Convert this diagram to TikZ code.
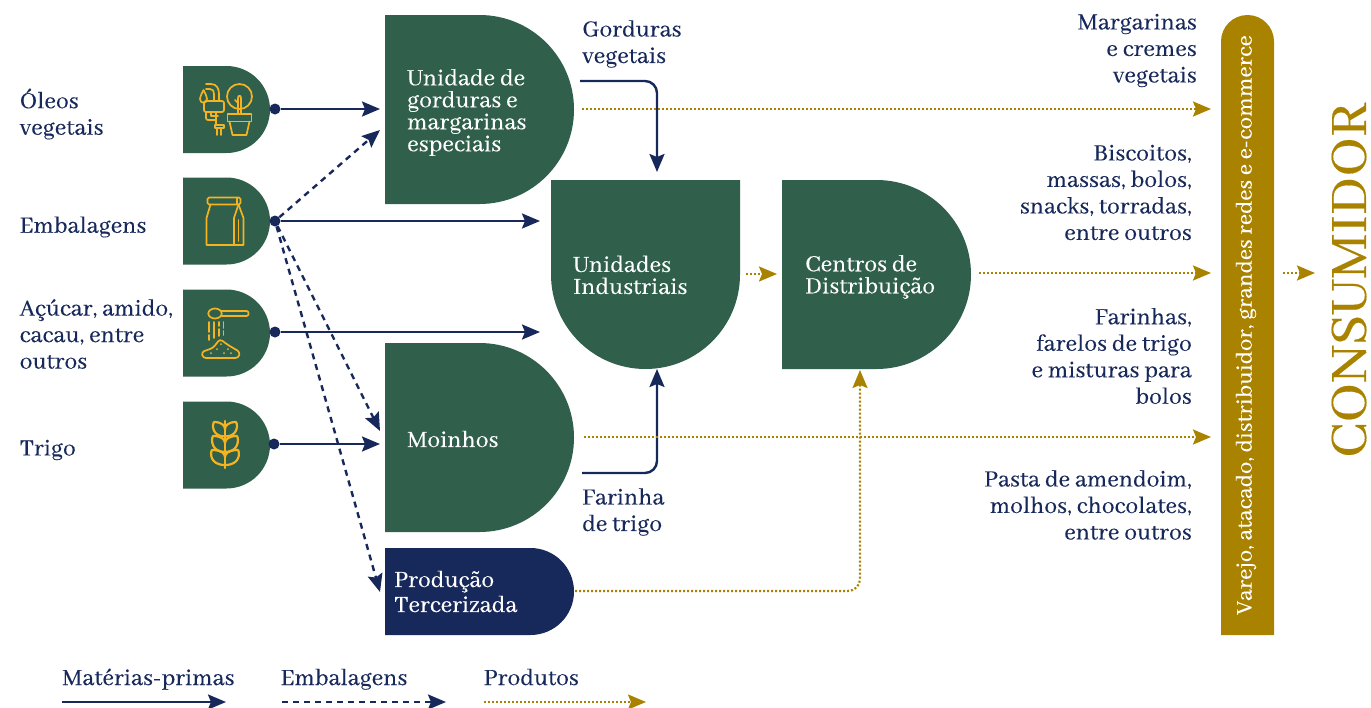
\documentclass[tikz,border=0pt]{standalone}
\usepackage{fontspec}
\setmainfont[FakeBold=0.25]{Abhaya Libre}
\usetikzlibrary{arrows.meta,shapes.misc}
\definecolor{verde}{RGB}{48,96,76}
\definecolor{azul}{RGB}{23,40,90}
\definecolor{ouro}{RGB}{169,130,0}
\definecolor{icone}{RGB}{245,179,32}
\tikzset{
    dbox/.style={rounded rectangle, rounded rectangle left arc=none, fill=verde,
        inner sep=0pt, outer sep=0pt},
    grande/.style={dbox, minimum width=189pt, minimum height=189pt},
    pequeno/.style={dbox, minimum width=87pt, minimum height=87pt},
    ponto/.style={circle, fill=azul, inner sep=0pt, minimum size=11pt},
    rotulo/.style={text=azul, font=\fontsize{25.5}{26.5}\selectfont},
    esq/.style={rotulo, anchor=west, align=left, inner sep=0pt},
    dir/.style={rotulo, anchor=east, align=right, inner sep=0pt},
    dentro/.style={anchor=west, align=left, inner sep=0pt, text=white,
        font=\fontsize{25.5}{22}\selectfont},
    legenda/.style={rotulo, anchor=base west, inner sep=0pt},
    materia/.style={draw=azul, line width=2.4pt, rounded corners=12pt,
        -{Stealth[length=18pt,width=15pt,inset=3pt]}},
    embal/.style={materia, dash pattern=on 6pt off 5pt},
    produto/.style={draw=ouro, line width=2.2pt, rounded corners=12pt, dash pattern=on 2pt off 2pt,
        -{Stealth[length=18pt,width=15pt,inset=3pt,sep=0pt]}},
    traco/.style={draw=icone, line width=1.7pt, line join=round, line cap=round},
}
\begin{document}
\begin{tikzpicture}[x=1pt, y=-1pt]
    \useasboundingbox (0,0) rectangle (1371,707);

    % caixas
    \node[pequeno] (oleos) at (226.5,109.5) {};
    \node[pequeno] (embal) at (226.5,221) {};
    \node[pequeno] (acucar) at (226.5,333) {};
    \node[pequeno] (trigo) at (226.5,445) {};
    \node[grande] (gordura) at (479.5,109.5) {};
    \node[grande] (moinho) at (479.5,437.5) {};
    \node[grande, rotate=-90] (unidade) at (645.5,274.5) {};
    \node[grande] (centro) at (876.5,274.5) {};
    \node[dbox, fill=azul, minimum width=189pt, minimum height=87pt] (terceira) at (479.5,591.5) {};
    \node[dbox, fill=ouro, rotate=90, minimum width=620pt, minimum height=53pt] (varejo) at (1247.5,325) {};

    % textos das caixas
    \node[dentro] (tgordura) at (407,112.5) {Unidade de\\gorduras e\\margarinas\\especiais};
    \node[dentro] (tunidade) at (573,275) {Unidades\\Industriais};
    \node[dentro] (tcentro) at (805,277) {Centros de\\Distribuição};
    \node[dentro] (tmoinho) at (407,439) {Moinhos};
    \node[dentro, font=\fontsize{25.5}{25}\selectfont] (tterceira) at (394,591.5) {Produção\\Tercerizada};
    \node[text=white, rotate=90, inner sep=0pt, font=\fontsize{24.7}{26}\selectfont] (tvarejo) at (1246,325)
        {Varejo, atacado, distribuidor, grandes redes e e-commerce};
    \node[text=ouro, rotate=90, inner sep=0pt, font=\fontsize{57.8}{58}\selectfont] (consumidor) at (1349,280) {CONSUMIDOR};

    % rotulos
    \node[esq] (loleos) at (19.5,114) {Óleos\\vegetais};
    \node[esq] (lembal) at (19.5,227) {Embalagens};
    \node[esq] (lacucar) at (19.5,334) {Açúcar, amido,\\cacau, entre\\outros};
    \node[esq] (ltrigo) at (19.5,450) {Trigo};
    \node[esq] (lgordura) at (582,44) {Gorduras\\vegetais};
    \node[esq] (lfarinha) at (582,512) {Farinha\\de trigo};
    \node[dir] (r1) at (1197,50.5) {Margarinas\\e cremes\\vegetais};
    \node[dir] (r2) at (1192,192.5) {Biscoitos,\\massas, bolos,\\snacks, torradas,\\entre outros};
    \node[dir] (r3) at (1192,356) {Farinhas,\\farelos de trigo\\e misturas para\\bolos};
    \node[dir] (r4) at (1192,505) {Pasta de amendoim,\\molhos, chocolates,\\entre outros};

    % pontos
    \node[ponto] (p1) at (275,109) {};
    \node[ponto] (p2) at (275,221) {};
    \node[ponto] (p3) at (275,332) {};
    \node[ponto] (p4) at (274,444) {};

    % pontas livres
    \coordinate (a1) at (380,109);
    \coordinate (a2) at (540,221);
    \coordinate (a3) at (540,332);
    \coordinate (a4) at (380,444);
    \coordinate (d1) at (380,130);
    \coordinate (d2) at (380,431);
    \coordinate (d3) at (380,592);
    \coordinate (g0) at (580,81);
    \coordinate (g1) at (657,172);
    \coordinate (f0) at (582,473);
    \coordinate (f1) at (657,369);
    \coordinate (o1) at (582,109);
    \coordinate (o2) at (1211,109);
    \coordinate (o3) at (979,273);
    \coordinate (o4) at (1211,273);
    \coordinate (o5) at (584,437);
    \coordinate (o6) at (1211,437);
    \coordinate (o7) at (746,274);
    \coordinate (o8) at (777,274);
    \coordinate (o9) at (1283,273);
    \coordinate (o10) at (1315,273);
    \coordinate (o11) at (575,591);
    \coordinate (o12) at (860,370);

    \draw[materia] (p1) -- (a1);
    \draw[materia] (p2) -- (a2);
    \draw[materia] (p3) -- (a3);
    \draw[materia] (p4) -- (a4);
    \draw[embal] (p2) -- (d1);
    \draw[embal] (p2) -- (d2);
    \draw[embal] (p2) -- (d3);
    \draw[materia] (g0) -| (g1);
    \draw[materia] (f0) -| (f1);
    \draw[produto] (o1) -- (o2);
    \draw[produto] (o3) -- (o4);
    \draw[produto] (o5) -- (o6);
    \draw[produto] (o7) -- (o8);
    \draw[produto] (o9) -- (o10);
    \draw[produto] (o11) -| (o12);

    % legenda
    \node[legenda] (leg1) at (62,685) {Matérias-primas};
    \node[legenda] (leg2) at (280.5,685) {Embalagens};
    \node[legenda] (leg3) at (483.5,685) {Produtos};
    \coordinate (l1) at (62,702);
    \coordinate (l2) at (226,702);
    \coordinate (l3) at (282,702);
    \coordinate (l4) at (446,702);
    \coordinate (l5) at (484,702);
    \coordinate (l6) at (646,702);
    \draw[materia] (l1) -- (l2);
    \draw[embal] (l3) -- (l4);
    \draw[produto] (l5) -- (l6);

    % icone oleo e planta
    \draw[traco] (203.5,90) .. controls (201,95) and (200,97) .. (200,99)
        .. controls (200,104) and (207,104) .. (207,99) .. controls (207,97) and (206,95) .. (203.5,90);
    \draw[traco] (206,84) -- (211,84) .. controls (217,84) and (219,89) .. (219,94) -- (219,101);
    \draw[traco] (206,89) -- (210,89) .. controls (213,89) and (214,91) .. (214,94) -- (214,101);
    \draw[traco, rounded corners=2pt] (204,101) rectangle (224,112);
    \draw[traco, rounded corners=2pt] (206,112) -- (206,120) -- (215,120);
    \draw[traco] (211,112) -- (211,116) -- (218,116);
    \draw[traco] (216,112) -- (216,125);
    \draw[traco] (215,125) rectangle (224,128);
    \draw[traco] (217,128) -- (217,135);
    \draw[traco] (221,128) -- (221,135);
    \draw[traco] (239.5,96.5) circle (12.5);
    \draw[traco] (227.5,114) rectangle (251.5,121.5);
    \draw[traco] (229.5,121.5) -- (232.5,135) -- (246.5,135) -- (249.5,121.5);
    \draw[traco] (238,114) -- (238,103) -- (235,100);
    \draw[traco] (241,114) -- (241,98) .. controls (241,95) and (238,95) .. (238,98) -- (238,103);

    % icone embalagem
    \draw[traco, rounded corners=1.5pt] (207.5,197.5) rectangle (240.5,204.5);
    \draw[traco] (210.5,204.5) -- (206.5,218) -- (206.5,245) -- (243.5,245) -- (243.5,218) -- (238.5,204.5);
    \draw[traco] (234,245) -- (234,218) -- (238.5,204.5);
    \draw[traco] (237,204.5) -- (237,198);
    \draw[traco] (238.5,220) -- (238.5,241);

    % icone acucar
    \draw[traco] (215,313.5) ellipse (6.7 and 5);
    \draw[traco, rounded corners=2pt] (221.5,311) -- (248.5,311) -- (248.5,316) -- (221.5,316);
    \foreach \xa/\ya/\yb in {209/322/332, 209/335/340, 214/322/338, 219/322/326, 219/329/336, 223.5/322/328, 223.5/331/335}
        \draw[traco] (\xa,\ya) -- (\xa,\yb);
    \draw[traco, rounded corners=3pt] (203,358) -- (201.5,352) -- (213,348) -- (220,339) -- (228,345) -- (240,352) -- (238.5,358) -- cycle;
    \foreach \xa/\ya in {211/353, 217/349, 221/344, 224/353, 231/353, 228/349}
        \fill[icone] (\xa,\ya) circle (1);

    % icone trigo
    \draw[traco, line width=2.2pt] (225,421) -- (225,468);
    \foreach \ya/\dx/\dy in {436.5/11/14.5, 452/12/16, 465/13/15} {
        \draw[traco, line width=2.2pt] (225,\ya) .. controls (225-\dx-2,\ya) and (225-\dx-2,\ya-\dy+3) .. (225-\dx,\ya-\dy)
            .. controls (225-3,\ya-\dy) and (225,\ya-\dy+4) .. (225,\ya-\dy+7);
        \draw[traco, line width=2.2pt] (225,\ya) .. controls (225+\dx+2,\ya) and (225+\dx+2,\ya-\dy+3) .. (225+\dx,\ya-\dy)
            .. controls (225+3,\ya-\dy) and (225,\ya-\dy+4) .. (225,\ya-\dy+7);
    }
\end{tikzpicture}
\end{document}
